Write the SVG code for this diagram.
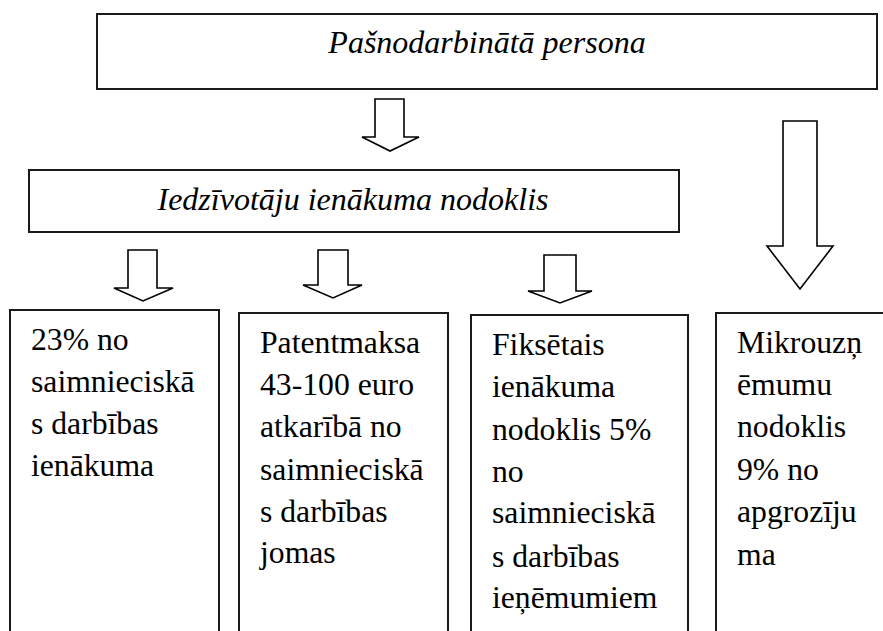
<svg xmlns="http://www.w3.org/2000/svg" width="883" height="631" viewBox="0 0 883 631">
<style>
.box{fill:#fff;stroke:#1a1a1a;stroke-width:2}
.arr{fill:#fff;stroke:#000;stroke-width:1.6;stroke-linejoin:miter}
.ti{font-family:"Liberation Serif","Times New Roman",serif;font-style:italic;font-size:32px;fill:#000}
.tx{font-family:"Liberation Serif","Times New Roman",serif;font-size:31.7px;fill:#000}
</style>
<rect width="883" height="631" fill="#fff"/>
<g id="connectors">
<polygon class="arr" points="375,99 404,99 404,137 419,137 390,151 362,137 375,137"/>
<polygon class="arr" points="783,121 817,121 817,246 833,246 800,289 767,246 783,246"/>
<polygon class="arr" points="128,250 157,250 157,288 173,288 143,301 114,288 128,288"/>
<polygon class="arr" points="318,250 348,250 348,285 362,285 333,298 303,285 318,285"/>
<polygon class="arr" points="544,255 576,255 576,291 592,291 560,303 528,291 544,291"/>
</g>
<g id="node-pasnodarbinata">
<rect class="box" x="97" y="14" width="780" height="75"/>
<text class="ti" x="487" y="53" text-anchor="middle">Pašnodarbinātā persona</text>
</g>
<g id="node-iin">
<rect class="box" x="29" y="170" width="650" height="62"/>
<text class="ti" x="353" y="210" text-anchor="middle">Iedzīvotāju ienākuma nodoklis</text>
</g>
<g id="node-23">
<rect class="box" x="10" y="310" width="209" height="340"/>
<text class="tx"><tspan x="31" y="350">23%</tspan><tspan x="97" y="350">no</tspan><tspan x="31" y="392">saimnieciskā</tspan><tspan x="31" y="434">s darbības</tspan><tspan x="31" y="476">ienākuma</tspan></text>
</g>
<g id="node-patentmaksa">
<rect class="box" x="239" y="313" width="209" height="340"/>
<text class="tx"><tspan x="260" y="353">Patentmaksa</tspan><tspan x="260" y="395">43-100 euro</tspan><tspan x="260" y="437">atkarībā no</tspan><tspan x="260" y="480">saimnieciskā</tspan><tspan x="260" y="522">s darbības</tspan><tspan x="260" y="563">jomas</tspan></text>
</g>
<g id="node-fiksetais">
<rect class="box" x="471" y="315" width="217" height="340"/>
<text class="tx"><tspan x="492" y="355">Fiksētais</tspan><tspan x="492" y="397">ienākuma</tspan><tspan x="492" y="440">nodoklis 5%</tspan><tspan x="492" y="482">no</tspan><tspan x="492" y="523">saimnieciskā</tspan><tspan x="492" y="567">s darbības</tspan><tspan x="492" y="608">ieņēmumiem</tspan></text>
</g>
<g id="node-mikrouznemumu">
<rect class="box" x="716" y="313" width="180" height="340"/>
<text class="tx"><tspan x="737" y="353">Mikrouzņ</tspan><tspan x="737" y="395">ēmumu</tspan><tspan x="737" y="437">nodoklis</tspan><tspan x="737" y="480">9% no</tspan><tspan x="737" y="522">apgrozīju</tspan><tspan x="737" y="565">ma</tspan></text>
</g>
</svg>
